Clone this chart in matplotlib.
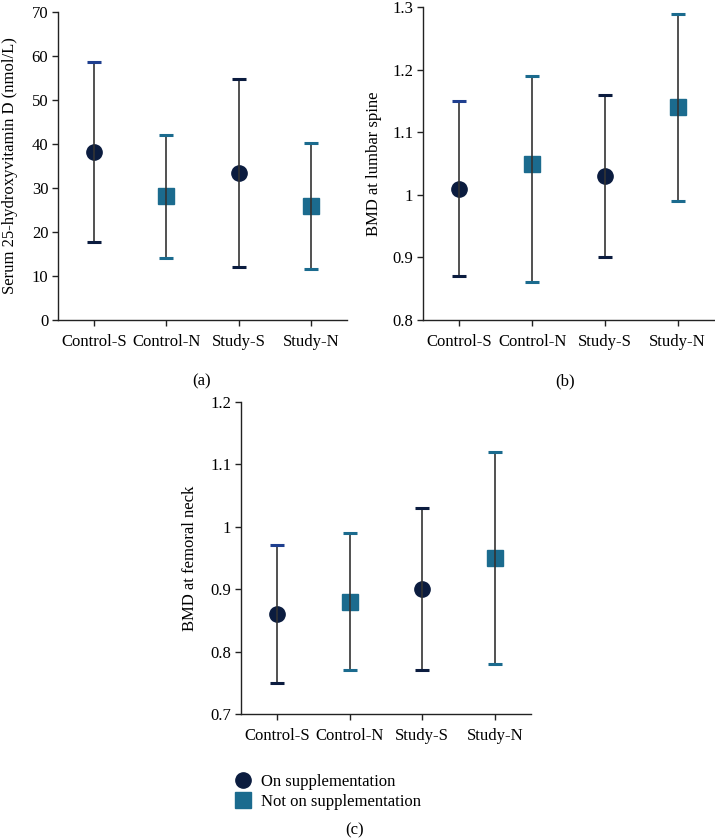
import matplotlib
matplotlib.use('Agg')
import matplotlib.pyplot as plt
from matplotlib.lines import Line2D

plt.rcParams['font.family'] = ['Liberation Serif', 'DejaVu Serif']

groups = ['Control-S', 'Control-N', 'Study-S', 'Study-N']
supplemented = [True, False, True, False]

# panel (a): serum 25-hydroxyvitamin D
vitd_mean = [38.1, 28.2, 33.3, 25.9]
vitd_low = [17.7, 14.2, 12.1, 11.5]
vitd_high = [58.6, 42.0, 54.7, 40.3]

# panel (b): BMD at lumbar spine
spine_mean = [1.01, 1.05, 1.03, 1.14]
spine_low = [0.87, 0.86, 0.90, 0.99]
spine_high = [1.15, 1.19, 1.16, 1.29]

# panel (c): BMD at femoral neck
neck_mean = [0.86, 0.88, 0.90, 0.95]
neck_low = [0.75, 0.77, 0.77, 0.78]
neck_high = [0.97, 0.99, 1.03, 1.12]

navy = '#0b1c3f'
teal = '#1b6b8e'
blue_cap = '#1f3f8f'
bar_col = '#333333'
fs = 12


def panel(ax, mean, low, high, yticks, yticklabels, ylabel, label_x):
    for i, g in enumerate(groups):
        x = i + 0.5
        if supplemented[i]:
            ax.plot(x, mean[i], 'o', ms=11, color=navy, zorder=2)
            cap_lo = navy
            cap_hi = blue_cap if i == 0 else navy
        else:
            ax.plot(x, mean[i], 's', ms=11, color=teal, zorder=2)
            cap_lo = teal
            cap_hi = teal
        ax.vlines(x, low[i], high[i], color=bar_col, lw=1.2, zorder=3)
        ax.plot(x, low[i], '_', ms=10, mew=2.2, color=cap_lo, zorder=4)
        ax.plot(x, high[i], '_', ms=10, mew=2.2, color=cap_hi, zorder=4)
    ax.set_xlim(0, 4)
    ax.set_ylim(yticks[0], yticks[-1])
    ax.set_xticks([i + 0.5 for i in range(4)])
    ax.set_xticklabels(groups)
    ax.set_yticks(yticks)
    ax.set_yticklabels(yticklabels)
    ax.set_ylabel(ylabel, fontsize=fs)
    ax.yaxis.set_label_coords(label_x, 0.5)
    for s in ['top', 'right']:
        ax.spines[s].set_visible(False)
    for s in ['left', 'bottom']:
        ax.spines[s].set_color('#222222')
        ax.spines[s].set_linewidth(1.0)
    ax.tick_params(direction='out', length=4, width=1.0, color='#222222',
                   labelsize=fs, pad=3)
    ax.tick_params(axis='x', pad=6)


fig = plt.figure(figsize=(7.15, 8.39), dpi=100)

ax_a = fig.add_axes([0.0811, 0.6186, 0.4042, 0.3671])
panel(ax_a, vitd_mean, vitd_low, vitd_high, [0, 10, 20, 30, 40, 50, 60, 70],
      ['0', '10', '20', '30', '40', '50', '60', '70'],
      'Serum 25-hydroxyvitamin D (nmol/L)', -0.14)

ax_b = fig.add_axes([0.5916, 0.6186, 0.4070, 0.3727])
panel(ax_b, spine_mean, spine_low, spine_high, [0.8, 0.9, 1.0, 1.1, 1.2, 1.3],
      ['0.8', '0.9', '1', '1.1', '1.2', '1.3'],
      'BMD at lumbar spine', -0.14)

ax_c = fig.add_axes([0.3371, 0.1490, 0.4056, 0.3719])
panel(ax_c, neck_mean, neck_low, neck_high, [0.7, 0.8, 0.9, 1.0, 1.1, 1.2],
      ['0.7', '0.8', '0.9', '1', '1.1', '1.2'],
      'BMD at femoral neck', -0.147)

fig.text(202 / 715, 1 - 381 / 839, '(a)', ha='center', va='center', fontsize=fs)
fig.text(565 / 715, 1 - 381 / 839, '(b)', ha='center', va='center', fontsize=fs)
fig.text(355 / 715, 1 - 830 / 839, '(c)', ha='center', va='center', fontsize=fs)

handles = [Line2D([], [], ls='', marker='o', ms=11, color=navy),
           Line2D([], [], ls='', marker='s', ms=11, color=teal)]
fig.legend(handles, ['On supplementation', 'Not on supplementation'],
           loc='upper left', bbox_to_anchor=(226 / 715, 1 - 766 / 839),
           frameon=False, fontsize=fs, handlelength=1.0, handletextpad=0.6,
           labelspacing=0.2, borderpad=0)

fig.savefig('out.png', dpi=100)
